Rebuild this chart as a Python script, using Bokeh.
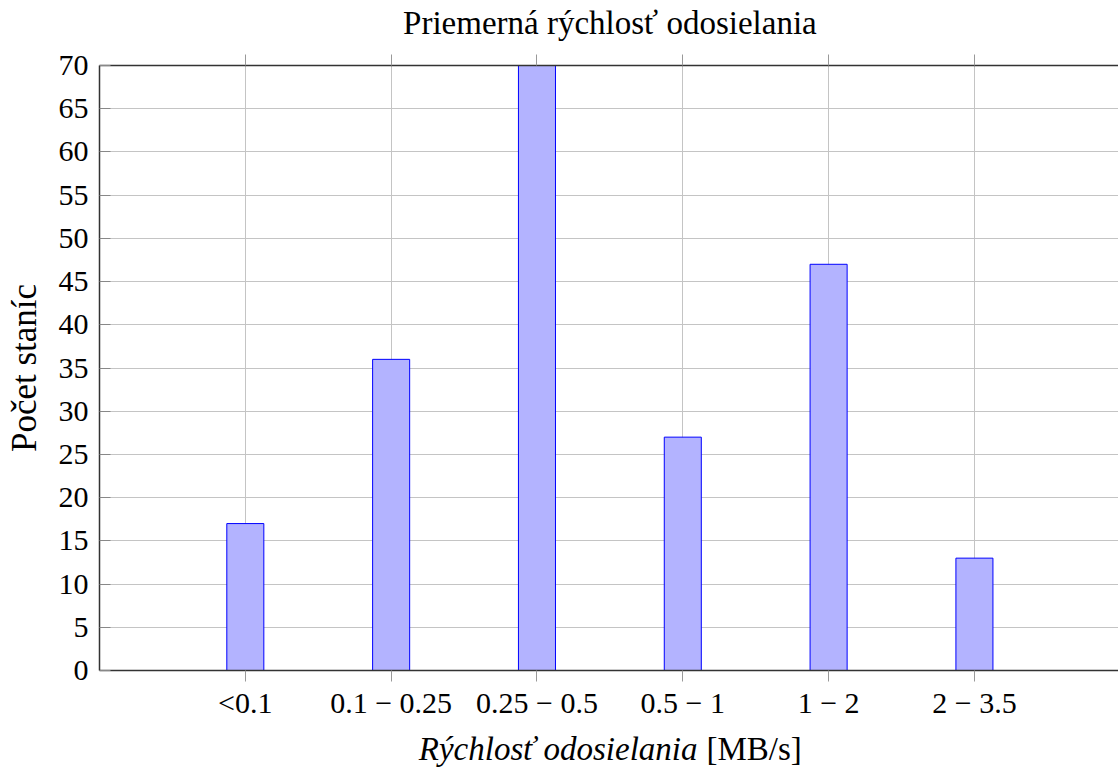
from bokeh.plotting import figure
from bokeh.models import FixedTicker, LinearAxis, Range1d
from bokeh.layouts import column
from bokeh.core.properties import value
from bokeh.embed import file_html
from bokeh.resources import INLINE

categories = ["<0.1", "0.1 \u2212 0.25", "0.25 \u2212 0.5", "0.5 \u2212 1", "1 \u2212 2", "2 \u2212 3.5"]
positions = [1, 2, 3, 4, 5, 6]
counts = [17, 36, 70, 27, 47, 13]
y_ticks = list(range(0, 75, 5))

title_text = "Priemerná rýchlosť odosielania"
xlabel_italic = "Rýchlosť odosielania"
xlabel_unit = "[MB/s]"
ylabel_text = "Počet staníc"

FONT = "Liberation Serif"
FS = "30px"

xr = Range1d(0, 6.988)


def strip(height):
    s = figure(width=1118, height=height, output_backend="svg", toolbar_location=None,
               title=None, x_range=xr, y_range=Range1d(0, height),
               x_axis_type=None, y_axis_type=None,
               min_border_left=99, min_border_right=0, min_border_top=0, min_border_bottom=0)
    s.outline_line_color = None
    s.grid.visible = False
    s.background_fill_color = "white"
    s.border_fill_color = "white"
    return s


# title strip
p0 = strip(44)
p0.text(x=[3.5], y=[22], text=[title_text], text_font=value(FONT),
        text_font_size="33px", text_font_style="normal", text_align="center",
        text_baseline="middle", text_color="black")

# main chart
p = figure(width=1118, height=681, output_backend="svg", toolbar_location=None,
           title=None, x_range=xr, y_range=Range1d(0, 70),
           min_border_left=99, min_border_right=0, min_border_top=21, min_border_bottom=55)
p.background_fill_color = "white"
p.border_fill_color = "white"
p.outline_line_color = None

p.vbar(x=positions, top=counts, width=0.254, bottom=0,
       fill_color="#b3b3ff", line_color="#0000ff", line_width=1)

# bottom axis
xa = p.xaxis[0]
xa.ticker = FixedTicker(ticks=positions)
xa.major_label_overrides = {pos: lab for pos, lab in zip(positions, categories)}
xa.major_label_text_font = FONT
xa.major_label_text_font_size = FS
xa.major_label_text_color = "black"
xa.major_tick_in = 0
xa.major_tick_out = 11
xa.major_tick_line_color = "#999999"
xa.minor_tick_line_color = None
xa.axis_line_color = "#333333"
xa.axis_line_width = 1.5
xa.major_label_standoff = 4

# left axis
ya = p.yaxis[0]
ya.ticker = FixedTicker(ticks=y_ticks)
ya.major_label_text_font = FONT
ya.major_label_text_font_size = FS
ya.major_label_text_color = "black"
ya.major_tick_in = 11
ya.major_tick_out = 0
ya.major_tick_line_color = "#888888"
ya.minor_tick_line_color = None
ya.axis_line_color = "#333333"
ya.axis_line_width = 1.5
ya.major_label_standoff = 11
ya.axis_label = ylabel_text
ya.axis_label_text_font = FONT
ya.axis_label_text_font_size = "35px"
ya.axis_label_text_font_style = "normal"
ya.axis_label_text_color = "black"
ya.axis_label_standoff = 12

# top axis (border + outward ticks, no labels)
ta = LinearAxis(ticker=FixedTicker(ticks=positions))
ta.major_label_text_font_size = "1px"
ta.major_label_text_color = None
ta.major_label_standoff = 0
ta.major_tick_in = 0
ta.major_tick_out = 11
ta.major_tick_line_color = "#999999"
ta.minor_tick_line_color = None
ta.axis_line_color = "#333333"
ta.axis_line_width = 1.5
p.add_layout(ta, "above")

p.xgrid.grid_line_color = "#c4c4c4"
p.ygrid.grid_line_color = "#c4c4c4"
p.xgrid.grid_line_width = 1
p.ygrid.grid_line_width = 1

# x axis label strip (italic part + upright unit)
p2 = strip(43)
p2.text(x=[4.101], y=[20], text=[xlabel_italic], text_font=value(FONT),
        text_font_size="33px", text_font_style="italic", text_align="right",
        text_baseline="middle", text_color="black")
p2.text(x=[4.162], y=[20], text=[xlabel_unit], text_font=value(FONT),
        text_font_size="33px", text_font_style="normal", text_align="left",
        text_baseline="middle", text_color="black")

layout = column(p0, p, p2, spacing=0)
open("out.html", "w").write(file_html(layout, INLINE))
